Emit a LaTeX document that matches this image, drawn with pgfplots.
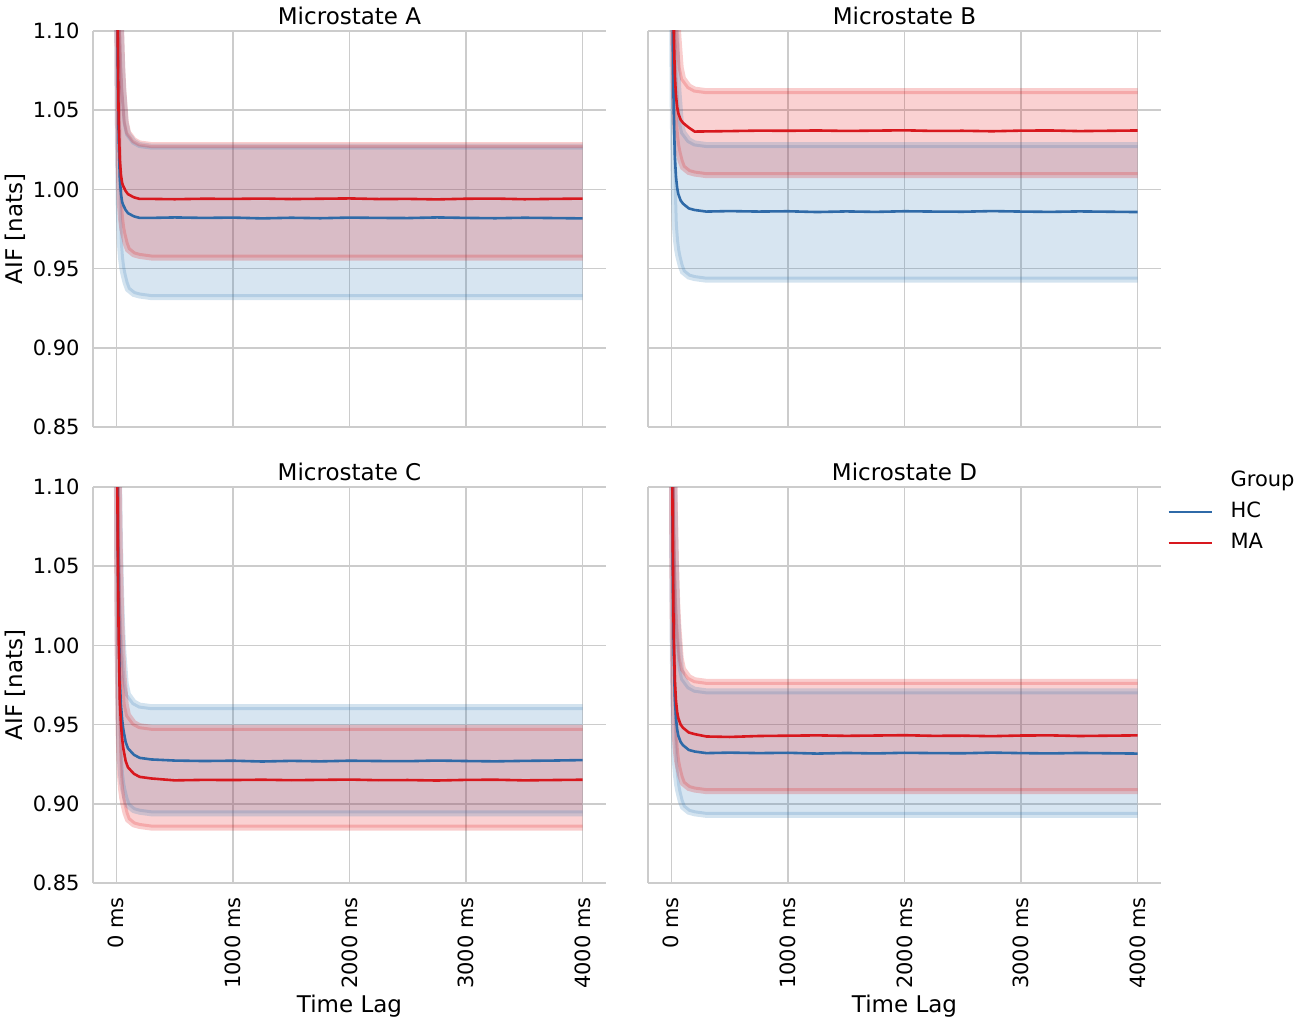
\documentclass[border=0pt]{standalone}
\usepackage{fontspec}
\setmainfont{DejaVu Sans}
\usepackage{pgfplots}
\pgfplotsset{compat=1.18}
\usepackage{pgfplotstable}
\usepgfplotslibrary{fillbetween}
\definecolor{hcline}{RGB}{47,106,168}
\definecolor{maline}{RGB}{216,24,30}
\definecolor{hcfill}{RGB}{55,126,184}
\definecolor{mafill}{RGB}{228,26,28}
\definecolor{gridc}{RGB}{204,204,204}

% columns: t, HC mean/lower/upper, MA mean/lower/upper
\pgfplotstableread{
t hm hl hu mm ml mu
0 1.382 1.332 1.427 1.394 1.357 1.428
4 1.232 1.182 1.357 1.244 1.207 1.358
8 1.132 1.092 1.297 1.144 1.117 1.298
12 1.082 1.042 1.247 1.094 1.067 1.248
20 1.032 0.992 1.187 1.044 1.017 1.188
30 1.007 0.967 1.137 1.019 0.992 1.138
40 0.997 0.957 1.102 1.009 0.982 1.103
50 0.992 0.951 1.077 1.004 0.976 1.078
60 0.990 0.947 1.062 1.002 0.972 1.063
80 0.987 0.941 1.042 0.999 0.966 1.043
100 0.985 0.937 1.035 0.997 0.962 1.036
150 0.983 0.934 1.030 0.995 0.959 1.031
200 0.982 0.933 1.028 0.994 0.958 1.029
300 0.982 0.932 1.027 0.994 0.957 1.028
500 0.9823 0.932 1.027 0.9938 0.957 1.028
750 0.9820 0.932 1.027 0.9941 0.957 1.028
1000 0.9822 0.932 1.027 0.9940 0.957 1.028
1250 0.9817 0.932 1.027 0.9942 0.957 1.028
1500 0.9821 0.932 1.027 0.9939 0.957 1.028
1750 0.9818 0.932 1.027 0.9941 0.957 1.028
2000 0.9822 0.932 1.027 0.9943 0.957 1.028
2250 0.9820 0.932 1.027 0.9939 0.957 1.028
2500 0.9819 0.932 1.027 0.9940 0.957 1.028
2750 0.9823 0.932 1.027 0.9937 0.957 1.028
3000 0.9820 0.932 1.027 0.9941 0.957 1.028
3250 0.9818 0.932 1.027 0.9942 0.957 1.028
3500 0.9821 0.932 1.027 0.9938 0.957 1.028
3750 0.9819 0.932 1.027 0.9940 0.957 1.028
4000 0.9817 0.932 1.027 0.9942 0.957 1.028
}\tA

\pgfplotstableread{
t hm hl hu mm ml mu
0 1.386 1.343 1.428 1.437 1.409 1.462
4 1.246 1.193 1.358 1.297 1.259 1.392
8 1.156 1.103 1.298 1.207 1.169 1.332
12 1.106 1.053 1.248 1.157 1.119 1.282
20 1.051 1.003 1.188 1.102 1.069 1.222
30 1.021 0.978 1.138 1.072 1.044 1.172
40 1.008 0.968 1.103 1.059 1.034 1.137
50 1.001 0.962 1.078 1.052 1.028 1.112
60 0.997 0.958 1.063 1.048 1.024 1.097
80 0.993 0.952 1.043 1.044 1.018 1.077
100 0.991 0.948 1.036 1.042 1.014 1.070
150 0.988 0.945 1.031 1.039 1.011 1.065
200 0.987 0.944 1.029 1.0365 1.010 1.063
300 0.986 0.943 1.028 1.0366 1.009 1.062
500 0.9863 0.943 1.028 1.0368 1.009 1.062
750 0.9860 0.943 1.028 1.0371 1.009 1.062
1000 0.9862 0.943 1.028 1.0370 1.009 1.062
1250 0.9857 0.943 1.028 1.0372 1.009 1.062
1500 0.9861 0.943 1.028 1.0369 1.009 1.062
1750 0.9858 0.943 1.028 1.0371 1.009 1.062
2000 0.9862 0.943 1.028 1.0373 1.009 1.062
2250 0.9860 0.943 1.028 1.0369 1.009 1.062
2500 0.9859 0.943 1.028 1.0370 1.009 1.062
2750 0.9863 0.943 1.028 1.0367 1.009 1.062
3000 0.9860 0.943 1.028 1.0371 1.009 1.062
3250 0.9858 0.943 1.028 1.0372 1.009 1.062
3500 0.9861 0.943 1.028 1.0368 1.009 1.062
3750 0.9859 0.943 1.028 1.0370 1.009 1.062
4000 0.9857 0.943 1.028 1.0372 1.009 1.062
}\tB

\pgfplotstableread{
t hm hl hu mm ml mu
0 1.327 1.294 1.361 1.315 1.285 1.348
4 1.207 1.144 1.291 1.195 1.135 1.278
8 1.127 1.054 1.231 1.115 1.045 1.218
12 1.077 1.004 1.181 1.065 0.995 1.168
20 1.017 0.954 1.121 1.005 0.945 1.108
30 0.977 0.929 1.071 0.965 0.920 1.058
40 0.962 0.919 1.036 0.950 0.910 1.023
50 0.953 0.913 1.011 0.941 0.904 0.998
60 0.947 0.909 0.996 0.935 0.900 0.983
80 0.939 0.903 0.976 0.927 0.894 0.963
100 0.935 0.899 0.969 0.923 0.890 0.956
150 0.931 0.896 0.964 0.919 0.887 0.951
200 0.929 0.895 0.962 0.917 0.886 0.949
300 0.928 0.894 0.961 0.916 0.885 0.948
500 0.9273 0.894 0.961 0.9148 0.885 0.948
750 0.9270 0.894 0.961 0.9151 0.885 0.948
1000 0.9272 0.894 0.961 0.9150 0.885 0.948
1250 0.9267 0.894 0.961 0.9152 0.885 0.948
1500 0.9271 0.894 0.961 0.9149 0.885 0.948
1750 0.9268 0.894 0.961 0.9151 0.885 0.948
2000 0.9272 0.894 0.961 0.9153 0.885 0.948
2250 0.9270 0.894 0.961 0.9149 0.885 0.948
2500 0.9269 0.894 0.961 0.9150 0.885 0.948
2750 0.9273 0.894 0.961 0.9147 0.885 0.948
3000 0.9270 0.894 0.961 0.9151 0.885 0.948
3250 0.9268 0.894 0.961 0.9152 0.885 0.948
3500 0.9271 0.894 0.961 0.9148 0.885 0.948
3750 0.9273 0.894 0.961 0.9150 0.885 0.948
4000 0.9276 0.894 0.961 0.9152 0.885 0.948
}\tC

\pgfplotstableread{
t hm hl hu mm ml mu
0 1.332 1.293 1.371 1.343 1.308 1.377
4 1.192 1.143 1.301 1.203 1.158 1.307
8 1.102 1.053 1.241 1.113 1.068 1.247
12 1.052 1.003 1.191 1.063 1.018 1.197
20 0.997 0.953 1.131 1.008 0.968 1.137
30 0.967 0.928 1.081 0.978 0.943 1.087
40 0.954 0.918 1.046 0.965 0.933 1.052
50 0.947 0.912 1.021 0.958 0.927 1.027
60 0.943 0.908 1.006 0.954 0.923 1.012
80 0.939 0.902 0.986 0.950 0.917 0.992
100 0.937 0.898 0.979 0.948 0.913 0.985
150 0.934 0.895 0.974 0.945 0.910 0.980
200 0.933 0.894 0.972 0.944 0.909 0.978
300 0.932 0.893 0.971 0.9425 0.908 0.977
500 0.9323 0.893 0.971 0.9422 0.908 0.977
750 0.9320 0.893 0.971 0.9428 0.908 0.977
1000 0.9322 0.893 0.971 0.9430 0.908 0.977
1250 0.9317 0.893 0.971 0.9432 0.908 0.977
1500 0.9321 0.893 0.971 0.9429 0.908 0.977
1750 0.9318 0.893 0.971 0.9431 0.908 0.977
2000 0.9322 0.893 0.971 0.9433 0.908 0.977
2250 0.9320 0.893 0.971 0.9429 0.908 0.977
2500 0.9319 0.893 0.971 0.9430 0.908 0.977
2750 0.9323 0.893 0.971 0.9427 0.908 0.977
3000 0.9320 0.893 0.971 0.9431 0.908 0.977
3250 0.9318 0.893 0.971 0.9432 0.908 0.977
3500 0.9321 0.893 0.971 0.9428 0.908 0.977
3750 0.9319 0.893 0.971 0.9430 0.908 0.977
4000 0.9317 0.893 0.971 0.9432 0.908 0.977
}\tD

\newcommand{\drawpanel}[1]{%
  \addplot[name path=hlo, draw=hcfill, draw opacity=0.22, line width=3pt, forget plot] table[x=t,y=hl]{#1};
  \addplot[name path=hup, draw=hcfill, draw opacity=0.22, line width=3pt, forget plot] table[x=t,y=hu]{#1};
  \addplot[fill=hcfill, fill opacity=0.2, draw=none, forget plot] fill between[of=hlo and hup];
  \addplot[name path=mlo, draw=mafill, draw opacity=0.22, line width=3pt, forget plot] table[x=t,y=ml]{#1};
  \addplot[name path=mup, draw=mafill, draw opacity=0.22, line width=3pt, forget plot] table[x=t,y=mu]{#1};
  \addplot[fill=mafill, fill opacity=0.2, draw=none, forget plot] fill between[of=mlo and mup];
  \addplot[hcline, line width=1.3pt, forget plot] table[x=t,y=hm]{#1};
  \addplot[maline, line width=1.3pt, forget plot] table[x=t,y=mm]{#1};
}

\pgfplotsset{panel/.style={
  scale only axis, width=256.5pt, height=198pt,
  xmin=-200, xmax=4200, ymin=0.85, ymax=1.10,
  xtick={0,1000,2000,3000,4000},
  ytick={0.85,0.90,0.95,1.00,1.05,1.10},
  grid=major, major grid style={draw=gridc, line width=0.8pt},
  axis x line*=bottom, axis y line*=left,
  axis line style={draw=gridc, line width=0.9pt},
  major tick length=0pt, tick style={draw=none},
  ticklabel style={font=\fontsize{10.5}{12}\selectfont},
  yticklabel style={inner sep=0pt, xshift=-6.5pt},
  xticklabel style={rotate=90, anchor=east, inner sep=0pt},
  xticklabel shift=7pt,
  title style={font=\fontsize{11.5}{13}\selectfont, at={(axis description cs:0.5,1)}, anchor=base, yshift=-2.8pt},
  ylabel style={font=\fontsize{11.5}{13}\selectfont, at={(axis description cs:-0.152,0.5)}, anchor=center, rotate=0},
  xlabel style={font=\fontsize{11.5}{13}\selectfont, at={(axis description cs:0.5,-0.327)}, anchor=base},
}}

\begin{document}
\begin{tikzpicture}

\begin{axis}[panel, at={(46.5pt,298pt)}, anchor=south west,
  title={Microstate A}, ylabel={AIF [nats]},
  yticklabels={0.85,0.90,0.95,1.00,1.05,1.10}, xticklabels={}]
\drawpanel{\tA}
\end{axis}

\begin{axis}[panel, at={(324pt,298pt)}, anchor=south west,
  title={Microstate B}, yticklabels={}, xticklabels={}]
\drawpanel{\tB}
\end{axis}

\begin{axis}[panel, at={(46.5pt,70pt)}, anchor=south west,
  title={Microstate C}, ylabel={AIF [nats]}, xlabel={Time Lag},
  yticklabels={0.85,0.90,0.95,1.00,1.05,1.10},
  xticklabels={0 ms,1000 ms,2000 ms,3000 ms,4000 ms}]
\drawpanel{\tC}
\end{axis}

\begin{axis}[panel, at={(324pt,70pt)}, anchor=south west,
  title={Microstate D}, xlabel={Time Lag}, yticklabels={},
  xticklabels={0 ms,1000 ms,2000 ms,3000 ms,4000 ms},
  legend style={at={(axis description cs:1.0,1.06)}, anchor=north west,
    draw=none, fill=none, font=\fontsize{10.5}{12}\selectfont,
    row sep=2.5pt, nodes={inner sep=1.5pt, text height=8pt, text depth=2pt},
    /tikz/every odd column/.append style={column sep=7.5pt}},
  legend cell align=left,
  legend image code/.code={\draw[#1] (0pt,0pt) -- (21.5pt,0pt);}]
\addlegendimage{empty legend}\addlegendentry{Group}
\addlegendimage{hcline, line width=1.1pt}\addlegendentry{HC}
\addlegendimage{maline, line width=1.1pt}\addlegendentry{MA}
\drawpanel{\tD}
\end{axis}

\pgfresetboundingbox
\path[use as bounding box] (0,0) rectangle (650pt,511.5pt);
\end{tikzpicture}
\end{document}
